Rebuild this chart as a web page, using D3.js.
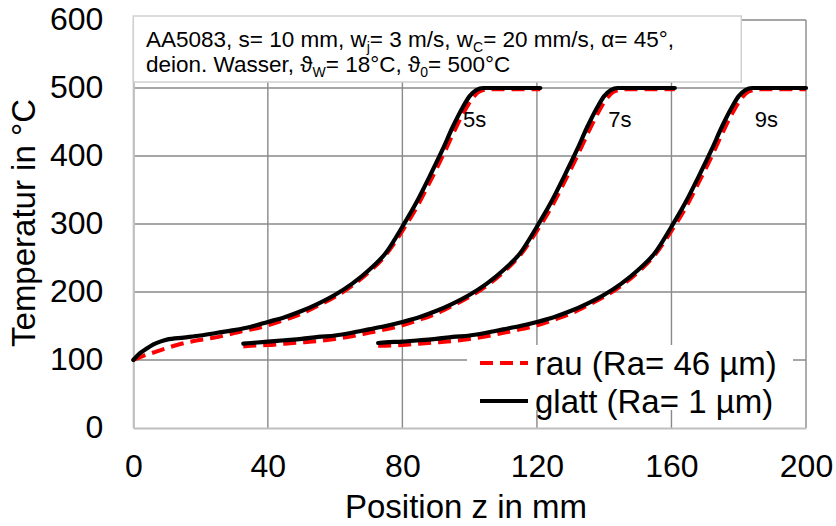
<!DOCTYPE html>
<html>
<head>
<meta charset="UTF-8">
<title></title>
<style>
  body { margin: 0; background: #fff; }
  text { font-family: "Liberation Sans", Arial, sans-serif; fill: #000; }
</style>
</head>
<body>
<script src="https://cdn.jsdelivr.net/npm/d3@7/dist/d3.min.js"></script>
<script>
var width = 836;
var height = 526;

// tick values
var xTicks = [0, 40, 80, 120, 160, 200];
var yTicks = [0, 100, 200, 300, 400, 500, 600];

// series: position z in mm / temperature in °C
var zGlatt5 = [0, 2, 4, 6, 8, 10, 15, 20, 25, 30, 35, 40, 45, 50, 55, 60, 65, 70, 75, 80, 84, 88, 92, 95, 98, 100, 102, 104, 121];
var tGlatt5 = [100, 110, 117, 123, 127, 130, 133, 136, 140, 144, 149, 156, 163, 172, 183, 196, 212, 232, 257, 296, 330, 369, 410, 443, 472, 488, 497, 500, 500];
var zRau5 = [0, 3, 6, 9, 13, 18, 23, 28, 32, 36, 40, 45, 50, 55, 60, 65, 70, 75, 80, 84, 88, 92, 95, 98, 101, 103, 106, 121];
var tRau5 = [100, 106, 111, 116, 122, 128, 132, 137, 142, 146, 151, 159, 168, 180, 193, 209, 229, 254, 290, 322, 360, 400, 432, 462, 486, 495, 498, 498];

var zGlatt7 = [32.7, 35, 40, 45, 50, 55, 60, 65, 70, 75, 80, 85, 90, 95, 100, 105, 110, 115, 120, 124, 128, 132, 135, 138, 140, 142, 144, 161];
var tGlatt7 = [124, 125, 127, 129, 131, 134, 136, 140, 145, 150, 156, 163, 172, 183, 196, 212, 232, 257, 296, 330, 369, 410, 443, 472, 488, 497, 500, 500];
var zRau7 = [32.7, 35, 40, 45, 50, 55, 60, 65, 70, 75, 80, 85, 90, 95, 100, 105, 110, 115, 120, 124, 128, 132, 135, 138, 141, 143, 146, 161];
var tRau7 = [120, 121, 122, 124, 126, 128, 131, 135, 140, 145, 151, 159, 168, 180, 193, 209, 229, 254, 290, 322, 360, 400, 432, 462, 486, 495, 498, 498];

var zGlatt9 = [72.8, 75, 80, 85, 90, 95, 100, 105, 110, 115, 120, 125, 130, 135, 140, 145, 150, 155, 160, 164, 168, 172, 175, 178, 180, 182, 184, 200];
var tGlatt9 = [125, 126, 127, 129, 131, 134, 136, 140, 145, 150, 156, 163, 172, 183, 196, 212, 232, 257, 296, 330, 369, 410, 443, 472, 488, 497, 500, 500];
var zRau9 = [72.8, 75, 80, 85, 90, 95, 100, 105, 110, 115, 120, 125, 130, 135, 140, 145, 150, 155, 160, 164, 168, 172, 175, 178, 181, 183, 186, 200];
var tRau9 = [121, 121, 122, 124, 126, 128, 131, 135, 140, 145, 151, 159, 168, 180, 193, 209, 229, 254, 290, 322, 360, 400, 432, 462, 486, 495, 498, 498];

var runLabels = ["5s", "7s", "9s"];
var legendLabels = ["rau (Ra= 46 µm)", "glatt (Ra= 1 µm)"];

var svg = d3.select("body").append("svg")
  .attr("width", width)
  .attr("height", height);

var x = d3.scaleLinear().domain([0, 200]).range([133.3, 806]);
var y = d3.scaleLinear().domain([0, 600]).range([428, 20]);

// gridlines
svg.append("g").selectAll("line.h")
  .data(yTicks.filter(function(d){ return d > 0; }))
  .enter().append("line")
  .attr("x1", x(0)).attr("x2", x(200))
  .attr("y1", function(d){ return y(d); }).attr("y2", function(d){ return y(d); })
  .attr("stroke", "#898989").attr("stroke-width", 1.4);
svg.append("g").selectAll("line.v")
  .data(xTicks.filter(function(d){ return d > 0; }))
  .enter().append("line")
  .attr("y1", y(0)).attr("y2", y(600))
  .attr("x1", function(d){ return x(d); }).attr("x2", function(d){ return x(d); })
  .attr("stroke", "#898989").attr("stroke-width", 1.4);

// axes (light grey lines, no ticks)
var xAxis = svg.append("g")
  .attr("transform", "translate(0," + y(0) + ")")
  .call(d3.axisBottom(x).tickValues(xTicks).tickSize(0).tickPadding(26).tickFormat(d3.format("d")));
var yAxis = svg.append("g")
  .attr("transform", "translate(" + x(0) + ",0)")
  .call(d3.axisLeft(y).tickValues(yTicks).tickSize(0).tickPadding(30).tickFormat(d3.format("d")));
[xAxis, yAxis].forEach(function(a){
  a.select(".domain").attr("stroke", "#bfbfbf").attr("stroke-width", 2.2);
  a.selectAll("text").attr("font-size", 32).attr("fill", "#000")
    .attr("font-family", "Liberation Sans, Arial, sans-serif");
});
yAxis.selectAll("text").attr("dy", "0.3em");

// annotation box
svg.append("rect")
  .attr("x", 133.3).attr("y", 16).attr("width", 608).attr("height", 66)
  .attr("fill", "#fff").attr("stroke", "#d0d0d0").attr("stroke-width", 1.5);
var ann1 = svg.append("text").attr("x", 146).attr("y", 47).attr("font-size", 22.5);
ann1.append("tspan").text("AA5083, s= 10 mm, w");
ann1.append("tspan").attr("dy", 5).attr("font-size", 14).text("j");
ann1.append("tspan").attr("dy", -5).text("= 3 m/s, w");
ann1.append("tspan").attr("dy", 5).attr("font-size", 14).text("C");
ann1.append("tspan").attr("dy", -5).text("= 20 mm/s, α= 45°,");
var ann2 = svg.append("text").attr("x", 146).attr("y", 72).attr("font-size", 22.5);
ann2.append("tspan").text("deion. Wasser, ϑ");
ann2.append("tspan").attr("dy", 5).attr("font-size", 14).text("W");
ann2.append("tspan").attr("dy", -5).text("= 18°C, ϑ");
ann2.append("tspan").attr("dy", 5).attr("font-size", 14).text("0");
ann2.append("tspan").attr("dy", -5).text("= 500°C");

// curves
var line = d3.line()
  .x(function(d){ return x(d[0]); })
  .y(function(d){ return y(d[1]); })
  .curve(d3.curveMonotoneX);

var rauSeries = [d3.zip(zRau5, tRau5), d3.zip(zRau7, tRau7), d3.zip(zRau9, tRau9)];
var glattSeries = [d3.zip(zGlatt5, tGlatt5), d3.zip(zGlatt7, tGlatt7), d3.zip(zGlatt9, tGlatt9)];

svg.append("g").selectAll("path")
  .data(rauSeries)
  .enter().append("path")
  .attr("d", line)
  .attr("fill", "none").attr("stroke", "#ff0000")
  .attr("stroke-width", 4).attr("stroke-dasharray", "13,7");
svg.append("g").selectAll("path")
  .data(glattSeries)
  .enter().append("path")
  .attr("d", line)
  .attr("fill", "none").attr("stroke", "#000")
  .attr("stroke-width", 4.2).attr("stroke-linecap", "round").attr("stroke-linejoin", "round");

// run time labels next to each curve
var labelZ = [98, 141.2, 184.8];
svg.append("g").selectAll("text")
  .data(runLabels)
  .enter().append("text")
  .attr("x", function(d, i){ return x(labelZ[i]); })
  .attr("y", y(443))
  .attr("font-size", 22)
  .text(function(d){ return d; });

// titles
svg.append("text")
  .attr("x", 466).attr("y", 518)
  .attr("text-anchor", "middle").attr("font-size", 33)
  .text("Position z in mm");
svg.append("text")
  .attr("transform", "translate(35,223) rotate(-90)")
  .attr("text-anchor", "middle").attr("font-size", 33)
  .text("Temperatur in °C");

// legend
var legend = svg.append("g");
legend.append("rect")
  .attr("x", 467).attr("y", 345).attr("width", 326).attr("height", 65)
  .attr("fill", "#fff");
var legItems = legend.selectAll("g.item")
  .data(legendLabels)
  .enter().append("g")
  .attr("transform", function(d, i){ return "translate(480," + (363 + i * 38) + ")"; });
legItems.append("line")
  .attr("x1", 0).attr("x2", 48)
  .attr("stroke", function(d, i){ return i === 0 ? "#ff0000" : "#000"; })
  .attr("stroke-width", 4)
  .attr("stroke-dasharray", function(d, i){ return i === 0 ? "13,7" : null; });
legItems.append("text")
  .attr("x", 55).attr("y", 11.5)
  .attr("font-size", 33)
  .text(function(d){ return d; });
</script>
</body>
</html>
